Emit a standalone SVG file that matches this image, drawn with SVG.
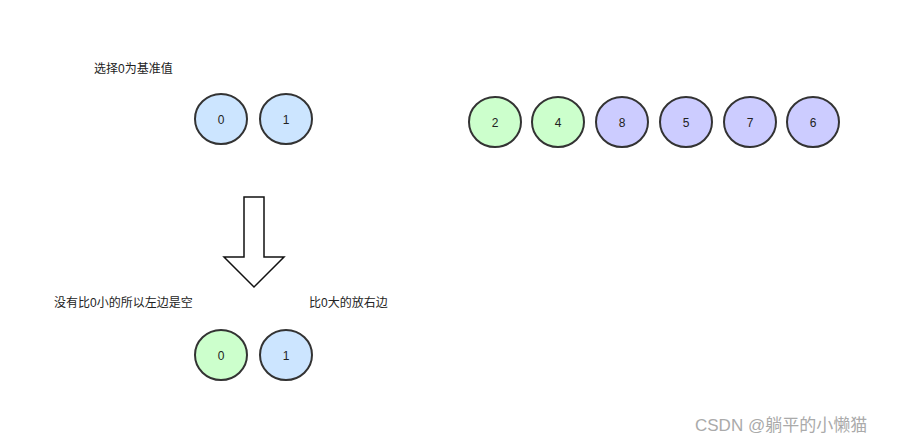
<svg xmlns="http://www.w3.org/2000/svg" width="902" height="443" viewBox="0 0 902 443">
<style>
.n{stroke:#333;stroke-width:2}
.b{fill:#cce5ff}.g{fill:#ccffcc}.p{fill:#ccccff}
.t{font-family:"Liberation Sans","Noto Sans CJK SC",sans-serif;font-size:12px;fill:#222}
.c{text-anchor:middle}
</style>
<rect width="902" height="443" fill="#fff"/>
<text class="t" x="94" y="73">选择0为基准值</text>
<text class="t" x="54" y="307">没有比0小的所以左边是空</text>
<text class="t" x="309" y="307">比0大的放右边</text>
<g id="n0"><ellipse class="n b" cx="221" cy="119" rx="26" ry="25"/><text class="t c" x="221" y="124">0</text></g>
<g id="n1"><ellipse class="n b" cx="286" cy="119" rx="26" ry="25"/><text class="t c" x="286" y="124">1</text></g>
<g id="n2"><ellipse class="n g" cx="495" cy="122" rx="26" ry="25"/><text class="t c" x="495" y="127">2</text></g>
<g id="n4"><ellipse class="n g" cx="558" cy="122" rx="26" ry="25"/><text class="t c" x="558" y="127">4</text></g>
<g id="n8"><ellipse class="n p" cx="622" cy="122" rx="26" ry="25"/><text class="t c" x="622" y="127">8</text></g>
<g id="n5"><ellipse class="n p" cx="686" cy="122" rx="26" ry="25"/><text class="t c" x="686" y="127">5</text></g>
<g id="n7"><ellipse class="n p" cx="750" cy="122" rx="26" ry="25"/><text class="t c" x="750" y="127">7</text></g>
<g id="n6"><ellipse class="n p" cx="813" cy="122" rx="26" ry="25"/><text class="t c" x="813" y="127">6</text></g>
<g id="m0"><ellipse class="n g" cx="221" cy="355" rx="26" ry="25"/><text class="t c" x="221" y="360">0</text></g>
<g id="m1"><ellipse class="n b" cx="286" cy="355" rx="26" ry="25"/><text class="t c" x="286" y="360">1</text></g>
<g id="connectors">
<polygon points="244,197 264,197 264,257 284,257 254,287 224,257 244,257" fill="#fff" stroke="#111" stroke-width="1.5"/>
</g>
<text x="695" y="431" font-family="Liberation Sans,Noto Sans CJK SC,sans-serif" font-size="17" fill="#aaa">CSDN @躺平的小懒猫</text>
</svg>
